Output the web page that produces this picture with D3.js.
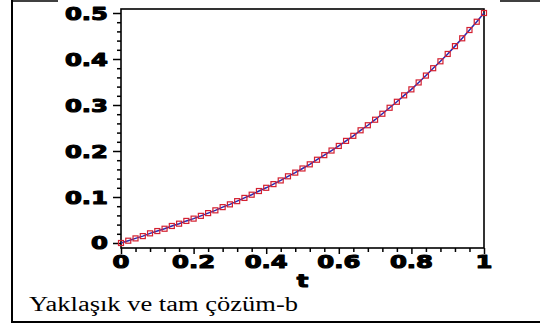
<!DOCTYPE html>
<html><head><meta charset="utf-8">
<script src="https://cdn.jsdelivr.net/npm/d3@7"></script>
<style>body{margin:0;background:#fff}svg{display:block}</style>
</head><body>
<svg id="c" width="540" height="325"></svg>
<script>
const tValues=[0,0.02,0.04,0.06,0.08,0.1,0.12,0.14,0.16,0.18,0.2,0.22,0.24,0.26,0.28,0.3,0.32,0.34,0.36,0.38,0.4,0.42,0.44,0.46,0.48,0.5,0.52,0.54,0.56,0.58,0.6,0.62,0.64,0.66,0.68,0.7,0.72,0.74,0.76,0.78,0.8,0.82,0.84,0.86,0.88,0.9,0.92,0.94,0.96,0.98,1];
const approx=[0,0.005,0.010,0.015,0.021,0.026,0.031,0.037,0.042,0.048,0.053,0.059,0.065,0.071,0.078,0.084,0.091,0.098,0.105,0.113,0.120,0.128,0.136,0.145,0.153,0.162,0.171,0.181,0.191,0.201,0.211,0.222,0.233,0.245,0.256,0.268,0.281,0.294,0.307,0.321,0.334,0.349,0.364,0.380,0.395,0.411,0.428,0.445,0.463,0.481,0.500];
const exact=[0,0.005,0.010,0.015,0.021,0.026,0.031,0.037,0.042,0.048,0.053,0.059,0.065,0.071,0.078,0.084,0.091,0.098,0.105,0.113,0.120,0.128,0.136,0.145,0.153,0.162,0.171,0.181,0.191,0.201,0.211,0.222,0.233,0.245,0.256,0.268,0.281,0.294,0.307,0.321,0.334,0.349,0.364,0.380,0.395,0.411,0.428,0.445,0.463,0.481,0.500];
const xTicks=[0,0.2,0.4,0.6,0.8,1];
const xTickLabels=["0","0.2","0.4","0.6","0.8","1"];
const xMinorTicks=[0.04,0.08,0.12,0.16,0.24,0.28,0.32,0.36,0.44,0.48,0.52,0.56,0.64,0.68,0.72,0.76,0.84,0.88,0.92,0.96];
const yTicks=[0,0.1,0.2,0.3,0.4,0.5];
const yTickLabels=["0","0.1","0.2","0.3","0.4","0.5"];
const yMinorTicks=[0.02,0.04,0.06,0.08,0.12,0.14,0.16,0.18,0.22,0.24,0.26,0.28,0.32,0.34,0.36,0.38,0.42,0.44,0.46,0.48];
const xLabel="t";
const caption="Yaklaşık ve tam çözüm-b";

const svg=d3.select("#c");
const L=121,R=484,T=9,B=248;
const x=d3.scaleLinear().domain([0,1]).range([L,R]);
const y=d3.scaleLinear().domain([-0.01087,0.5087]).range([B,T]);

// outer frame (table cell)
const frame=svg.append("g").attr("stroke","#000").attr("fill","none");
frame.append("line").attr("x1",12).attr("x2",12).attr("y1",0).attr("y2",323).attr("stroke-width",2);
frame.append("line").attr("x1",11).attr("x2",540).attr("y1",322).attr("y2",322).attr("stroke-width",2);
frame.append("line").attr("x1",11).attr("x2",58).attr("y1",1).attr("y2",1).attr("stroke-width",1.5);
frame.append("line").attr("x1",500).attr("x2",540).attr("y1",1).attr("y2",1).attr("stroke-width",1.5);

// axes ticks
const gy=svg.append("g").attr("transform",`translate(${L},0)`);
gy.call(d3.axisLeft(y).tickValues(yTicks).tickSize(8).tickFormat(""));
const gym=svg.append("g").attr("transform",`translate(${L},0)`);
gym.call(d3.axisLeft(y).tickValues(yMinorTicks).tickSize(4).tickFormat(""));
const gx=svg.append("g").attr("transform",`translate(0,${B})`);
gx.call(d3.axisBottom(x).tickValues(xTicks).tickSize(6).tickFormat(""));
const gxm=svg.append("g").attr("transform",`translate(0,${B})`);
gxm.call(d3.axisBottom(x).tickValues(xMinorTicks).tickSize(4).tickFormat(""));
svg.selectAll(".domain").remove();
svg.selectAll(".tick line").attr("stroke","#000").attr("stroke-width",1.5);

// box
svg.append("rect").attr("x",L).attr("y",T).attr("width",R-L).attr("height",B-T)
  .attr("fill","none").attr("stroke","#000").attr("stroke-width",1.6);

// tick labels
const lab={"font-family":"DejaVu Sans","font-weight":"bold","font-size":"18px","stroke":"#000","stroke-width":"1.1","stroke-linejoin":"round"};
function txt(s,tx,ty,anchor,sx){
  const t=svg.append("text").text(s).attr("text-anchor",anchor)
    .attr("transform",`translate(${tx},${ty}) scale(${sx},1)`).attr("fill","#000");
  for(const k in lab) t.attr(k,lab[k]);
  return t;
}
yTicks.forEach((v,i)=>txt(yTickLabels[i],108,y(v)+6.5,"end",1.35));
xTicks.forEach((v,i)=>txt(xTickLabels[i],x(v),268,"middle",1.35));
txt(xLabel,(L+R)/2,287,"middle",1.35);

// exact line
const pts=tValues.map((t,i)=>[t,exact[i]]);
svg.append("path").datum(pts).attr("fill","none").attr("stroke","#2a2ab0").attr("stroke-width",1.5)
  .attr("d",d3.line().x(d=>x(d[0])).y(d=>y(d[1])));
// approx boxes
svg.append("g").selectAll("rect").data(tValues.map((t,i)=>[t,approx[i]])).join("rect")
  .attr("x",d=>x(d[0])-2.5).attr("y",d=>y(d[1])-2.5).attr("width",5).attr("height",5)
  .attr("fill","none").attr("stroke","#d42030").attr("stroke-width",1.2);

// caption
svg.append("text").text(caption).attr("x",29).attr("y",311)
  .attr("font-family","Liberation Serif").attr("font-size","20px").attr("fill","#000")
  .attr("textLength",269).attr("lengthAdjust","spacingAndGlyphs");
</script>
</body></html>
